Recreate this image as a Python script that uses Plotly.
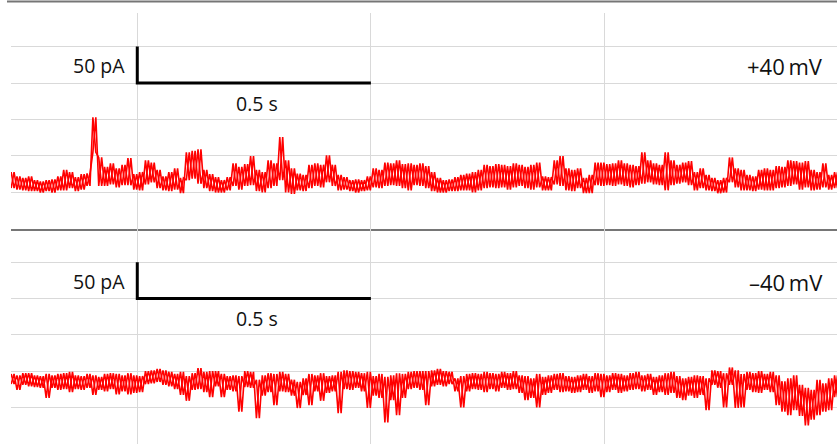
import numpy as np
import plotly.graph_objects as go

# ---- data (pA), sampled every 12.5 ms starting at 0.23 s ----
T0 = 0.23
DT = 0.0125

top_hi = [28, 22, 20, 22, 17, 15, 17, 18, 22, 31,
          28, 21, 25, 26, 103, 48, 35, 40, 33, 38,
          47, 25, 28, 44, 41, 31, 22, 28, 33, 20,
          55, 57, 59, 31, 25, 21, 17, 21, 40, 35,
          39, 50, 31, 28, 44, 40, 76, 44, 33, 26,
          24, 38, 40, 38, 51, 38, 24, 21, 17, 18,
          17, 22, 33, 31, 41, 40, 44, 39, 40, 38,
          40, 36, 28, 20, 17, 18, 21, 24, 26, 28,
          31, 38, 36, 39, 38, 36, 40, 38, 35, 38,
          41, 22, 21, 44, 50, 33, 31, 33, 20, 24,
          41, 41, 39, 40, 44, 40, 38, 36, 55, 44,
          40, 38, 55, 44, 38, 41, 43, 28, 33, 24,
          20, 17, 20, 48, 33, 31, 24, 22, 31, 33,
          31, 36, 35, 44, 43, 41, 43, 31, 28, 40,
          24, 28]
top_lo = [6, 4, 3, 2, 2, 0, 2, 0, 3, 3,
          6, 2, 4, 9, 55, 9, 9, 11, 7, 10,
          10, 4, 3, 11, 14, 6, 3, 2, 4, -1,
          17, 19, 12, 6, 2, 0, 0, 3, 9, 4,
          9, 10, 2, 0, 6, 9, 17, 0, -2, 3,
          2, 6, 9, 7, 14, 9, 3, 4, 2, 0,
          2, 3, 7, 6, 9, 10, 9, 6, 3, 10,
          9, 6, 2, 0, 0, 2, 2, 3, 3, 0,
          3, 6, 7, 6, 7, 4, 7, 9, 6, 4,
          7, 3, 3, 11, 9, 3, 2, 6, -1, -1,
          10, 9, 10, 9, 11, 9, 7, 10, 12, 14,
          11, 10, 3, 10, 12, 14, 10, 3, 6, 3,
          2, -1, 0, 14, 7, 3, 3, 2, 4, 3,
          3, 6, 7, 9, 11, 4, 7, 3, 4, 7,
          4, 6]

bot_hi = [46, 44, 47, 47, 44, 43, 46, 44, 46, 47,
          49, 44, 43, 46, 44, 42, 46, 47, 46, 44,
          47, 44, 43, 50, 51, 53, 51, 49, 46, 49,
          43, 47, 54, 49, 50, 50, 46, 43, 44, 43,
          50, 49, 38, 44, 47, 46, 49, 46, 38, 35,
          40, 46, 44, 47, 43, 44, 49, 51, 50, 49,
          47, 49, 43, 46, 42, 44, 47, 46, 49, 50,
          50, 50, 51, 53, 50, 49, 40, 43, 46, 47,
          46, 49, 47, 46, 49, 47, 50, 44, 43, 40,
          46, 42, 44, 46, 47, 43, 42, 44, 46, 43,
          47, 46, 44, 47, 46, 44, 47, 49, 44, 46,
          42, 44, 47, 49, 43, 40, 42, 44, 43, 40,
          51, 50, 47, 55, 51, 46, 49, 47, 50, 46,
          49, 44, 36, 40, 44, 31, 27, 24, 38, 33,
          40, 44]
bot_lo = [32, 24, 31, 29, 28, 27, 13, 27, 24, 25,
          21, 25, 24, 27, 17, 24, 22, 25, 18, 22,
          18, 20, 21, 32, 33, 35, 31, 29, 25, 17,
          9, 24, 25, 21, 14, 29, 14, 24, 22, -6,
          28, 27, -15, 16, 21, 3, 22, 21, 16, -1,
          17, 3, 22, 9, 20, 22, -8, 25, 24, 27,
          22, -1, 16, 13, -21, 10, -11, 13, 25, 27,
          24, 3, 29, 31, 29, 32, 22, 0, 22, 25,
          24, 21, 25, 22, 27, 24, 25, 20, 10, 13,
          0, 17, 20, 24, 21, 22, 20, 21, 24, 20,
          22, 14, 21, 24, 20, 22, 24, 25, 22, 24,
          17, 21, 17, 20, 13, 10, 16, 13, 17, -4,
          31, 27, 0, 31, -1, 0, 24, 21, 20, 24,
          21, 3, -6, -11, -4, -12, -25, -17, -11, -6,
          -4, 14]

# scale bars: 50 pA (vertical), 0.5 s (horizontal)
bar_t = [0.5, 0.5, 1.0]
bar_v = [200, 150, 150]

labels_top = ["50 pA", "0.5 s", "+40\u2009mV"]
labels_bot = ["50 pA", "0.5 s", "\u201340\u2009mV"]

t = T0 + DT * np.arange(len(top_hi))


def zigzag(hi, lo):
    """Two interleaved zig-zags through the read max/min of every sample."""
    xs, ys = [], []
    for ti, h, l in zip(t, hi, lo):
        xs += [ti, ti + DT / 2]
        ys += [h, l]
    xs.append(None)
    ys.append(None)
    for ti, h, l in zip(t, hi, lo):
        xs += [ti, ti + DT / 2]
        ys += [l, h]
    return xs, ys


RED = "#ff0000"
GRID = "#d9d9d9"
AXIS = "#767676"
FONT = "Open Sans"

fig = go.Figure()
for hi, lo, xa, ya in [(top_hi, top_lo, "x", "y"), (bot_hi, bot_lo, "x2", "y2")]:
    xs, ys = zigzag(hi, lo)
    fig.add_trace(go.Scatter(x=xs, y=ys, mode="lines", xaxis=xa, yaxis=ya,
                             line=dict(color=RED, width=1.6), connectgaps=False,
                             hoverinfo="skip"))
    fig.add_trace(go.Scatter(x=bar_t, y=bar_v, mode="lines", xaxis=xa, yaxis=ya,
                             line=dict(color="black", width=3), hoverinfo="skip"))

XR = [0.2297, 1.9977]
common_x = dict(range=XR, tick0=0, dtick=0.5, showgrid=True, gridcolor=GRID, gridwidth=1,
                showticklabels=False, ticks="", zeroline=False, domain=[11 / 837, 1])
common_y = dict(tick0=0, dtick=50, showgrid=True, gridcolor=GRID, gridwidth=1,
                showticklabels=False, ticks="", zeroline=False, showline=False)

fig.update_layout(
    width=837, height=445,
    margin=dict(l=0, r=0, t=0, b=0),
    paper_bgcolor="white", plot_bgcolor="white",
    showlegend=False,
    xaxis=dict(**common_x, anchor="y", showline=True, linecolor=AXIS, linewidth=2),
    yaxis=dict(**common_y, anchor="x", domain=[0.4854, 0.9708], range=[-50, 245.9]),
    xaxis2=dict(**common_x, anchor="y2", showline=False),
    yaxis2=dict(**common_y, anchor="x2", domain=[0.00337, 0.4847], range=[-49.9, 245.5]),
)

# axis line of the chart above (cropped)
fig.add_shape(type="line", xref="paper", yref="paper", x0=7 / 837, x1=1,
              y0=0.99663, y1=0.99663, line=dict(color=AXIS, width=2))

for labels, xr, yr in [(labels_top, "x", "y"), (labels_bot, "x2", "y2")]:
    fig.add_annotation(x=0.478, y=174, xref=xr, yref=yr, text=labels[0], showarrow=False,
                       xanchor="right", yanchor="middle", font=dict(family=FONT, size=19.5, color="#111"))
    fig.add_annotation(x=0.757, y=122, xref=xr, yref=yr, text=labels[1], showarrow=False,
                       xanchor="center", yanchor="middle", font=dict(family=FONT, size=19.5, color="#111"))
    fig.add_annotation(x=1.972, y=173, xref=xr, yref=yr, text=labels[2], showarrow=False,
                       xanchor="right", yanchor="middle", font=dict(family=FONT, size=22, color="#111"))

fig.write_html("out.html", config={"displayModeBar": False},
               post_script="document.body.style.margin='0';")
